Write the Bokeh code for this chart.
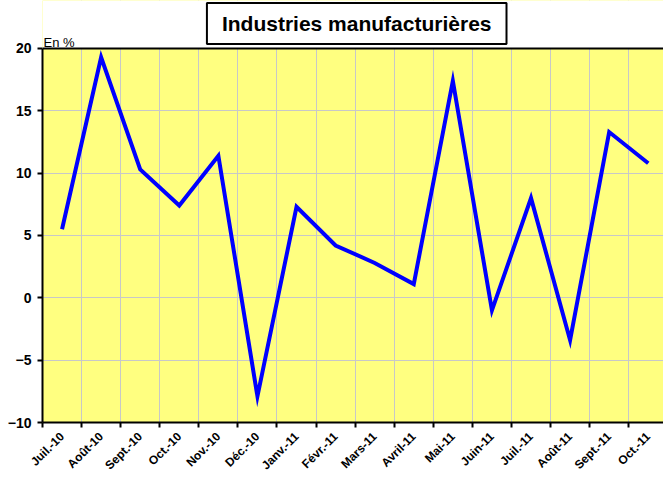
import math
import numpy as np
from bokeh.plotting import figure
from bokeh.models import Range1d, FixedTicker, Label, Span
from bokeh.embed import file_html
from bokeh.resources import INLINE

months = ["Juil.-10", "Août-10", "Sept.-10", "Oct.-10", "Nov.-10", "Déc.-10",
          "Janv.-11", "Févr.-11", "Mars-11", "Avril-11", "Mai-11", "Juin-11",
          "Juil.-11", "Août-11", "Sept.-11", "Oct.-11"]
values = [5.5, 19.3, 10.3, 7.4, 11.4, -7.9, 7.3, 4.2, 2.8, 1.1, 17.4, -1.0,
          8.0, -3.4, 13.3, 10.8]
y_ticks = [-10, -5, 0, 5, 10, 15, 20]
title_text = "Industries manufacturières"
unit_text = "En %"

FONT = "Liberation Sans"

n = len(months)
xs = np.arange(n) + 0.5
y_min, y_max = y_ticks[0], y_ticks[-1]
x_end = 15.89
y_top = 23.85

p = figure(width=663, height=481,
           x_range=Range1d(0, x_end), y_range=Range1d(y_min, y_top),
           output_backend="svg", toolbar_location=None,
           min_border_left=42, min_border_right=0,
           min_border_top=0, min_border_bottom=59)

p.background_fill_color = "#FFFF80"
p.border_fill_color = "white"
p.outline_line_color = None

# grids
p.xgrid.ticker = FixedTicker(ticks=list(range(n + 1)))
p.ygrid.ticker = FixedTicker(ticks=y_ticks)
for g in (p.xgrid, p.ygrid):
    g.grid_line_color = "#C8C8C8"
    g.grid_line_width = 1

# x axis
xa = p.xaxis[0]
xa.ticker = FixedTicker(ticks=list(xs), minor_ticks=list(range(n + 1)))
xa.major_label_overrides = {float(x): m for x, m in zip(xs, months)}
xa.major_label_orientation = math.pi / 4
xa.major_tick_line_color = None
xa.minor_tick_line_color = "black"
xa.minor_tick_line_width = 2
xa.minor_tick_out = 5
xa.minor_tick_in = 0
xa.axis_line_color = "black"
xa.axis_line_width = 2
xa.major_label_text_font = FONT
xa.major_label_text_font_style = "bold"
xa.major_label_text_font_size = "12px"
xa.major_label_text_color = "black"
xa.major_label_standoff = 6

# y axis
ya = p.yaxis[0]
ya.ticker = FixedTicker(ticks=y_ticks)
ya.bounds = (y_min, y_max)
ya.major_tick_line_color = "black"
ya.major_tick_line_width = 2
ya.major_tick_out = 5
ya.major_tick_in = 0
ya.minor_tick_line_color = None
ya.axis_line_color = "black"
ya.axis_line_width = 2
ya.major_label_text_font = FONT
ya.major_label_text_font_style = "bold"
ya.major_label_text_font_size = "14px"
ya.major_label_text_color = "black"
ya.major_label_standoff = 6

p.line(xs, values, line_color="#0000FF", line_width=4, line_join="miter")

# white band above the plotting area (title zone)
p.quad(left=[0], right=[x_end], bottom=[y_max], top=[y_top],
       fill_color="white", fill_alpha=1.0, line_color=None)
p.add_layout(Span(location=y_max, dimension="width", line_color="black",
                  line_width=2))

title = Label(x=8.04, y=22.0, text=title_text, text_align="center",
              text_baseline="middle", text_font=FONT, text_font_style="bold",
              text_font_size="21px", text_color="black",
              background_fill_color="white", border_line_color="black",
              border_line_width=2, padding=(15, 9))
p.add_layout(title)

unit = Label(x=0.0, y=20.5, text=unit_text, text_align="left",
             text_baseline="alphabetic", text_font=FONT,
             text_font_size="13px", text_color="black", x_offset=1)
p.add_layout(unit)

open("out.html", "w").write(file_html(p, INLINE))
